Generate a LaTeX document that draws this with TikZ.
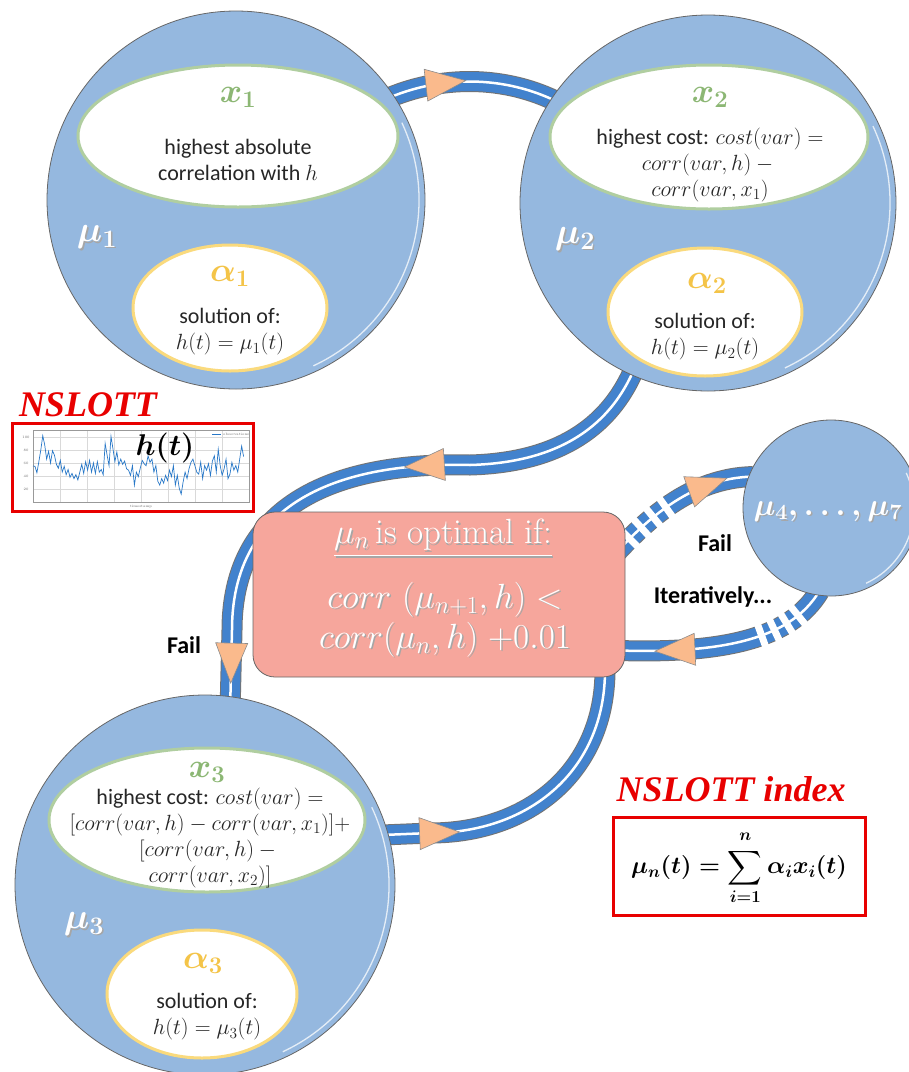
\RequirePackage{fix-cm}
\documentclass[tikz,border=0pt]{standalone}
\usepackage{amsmath}
\usepackage{amssymb}
\usepackage{fontspec}
\usepackage{tikz}
\usetikzlibrary{shapes.geometric, decorations.markings, calc}
\newfontfamily\calfont{Carlito}
\newfontfamily\timesfont{Liberation Serif}
\definecolor{circfill}{RGB}{149,184,223}
\definecolor{bandblue}{RGB}{66,130,205}
\definecolor{peach}{RGB}{250,186,140}
\definecolor{boxpink}{RGB}{246,166,156}
\definecolor{xgreen}{RGB}{140,183,116}
\definecolor{xline}{RGB}{176,206,160}
\definecolor{agold}{RGB}{244,196,72}
\definecolor{aline}{RGB}{250,218,125}
\definecolor{nred}{RGB}{232,0,0}
\definecolor{plotblue}{RGB}{40,120,200}
\pgfdeclarelayer{bg}
\pgfsetlayers{bg,main}
\newcommand\wsh[1]{\makebox[0pt][l]{\kern1.5pt\raisebox{-1.5pt}{\color{black!35}#1}}{\color{white}#1}}
\newcommand\arrowhead{\filldraw[fill=peach, draw=black!45, line width=0.6pt] (20pt,0pt) -- (-20pt,16pt) -- (-20pt,-16pt) -- cycle;}
\newcommand\gapmark{\fill[white] (-3.5pt,-12pt) rectangle (3.5pt,12pt);}

\begin{document}
\begin{tikzpicture}[x=1pt, y=-1pt,
	bubble/.style={circle, fill=circfill, draw=black!60, line width=0.8pt, inner sep=0pt},
	xell/.style={ellipse, fill=white, draw=xline, line width=3pt, inner sep=0pt},
	aell/.style={ellipse, fill=white, draw=aline, line width=3pt, inner sep=0pt},
	body/.style={font=\calfont\fontsize{22}{26}\selectfont, align=center, text=black!85},
	xlab/.style={text=xgreen, font=\fontsize{34}{34}\selectfont\mathversion{bold}},
	alab/.style={text=agold, font=\fontsize{34}{34}\selectfont\mathversion{bold}},
	mulab/.style={font=\fontsize{36}{36}\selectfont\mathversion{bold}},
	band/.style={draw=bandblue, line width=19pt, preaction={draw=black!55, line width=21pt}, postaction={draw=white, line width=2.5pt}},
	tag/.style={font=\calfont\bfseries\fontsize{24}{28}\selectfont},
	redtitle/.style={text=nred, inner sep=0pt, font=\timesfont\bfseries\itshape\fontsize{36}{36}\selectfont},
	tiny/.style={font=\fontsize{3.5}{4}\selectfont, text=black!60, inner sep=0pt}]
	\useasboundingbox (0,0) rectangle (909,1072);

	\node[bubble, minimum size=378pt] (mu1) at (236,200) {};
	\node[xell, minimum width=320pt, minimum height=142pt] (x1) at (238,136) {};
	\node[aell, minimum width=194pt, minimum height=126pt] (a1) at (230,308) {};
	\node[xlab] (x1l) at (238,97) {$x_1$};
	\node[body] (x1t) at (238,160) {highest absolute\\correlation with $h$};
	\node[alab] (a1l) at (230,276) {$\alpha_1$};
	\node[body] (a1t) at (230,332) {solution of:\\$h(t)=\mu_1(t)$};
	\node[mulab] (mu1l) at (97,238) {\wsh{$\mu_1$}};

	\node[bubble, minimum size=376pt] (mu2) at (708,203) {};
	\node[xell, minimum width=318pt, minimum height=144pt] (x2) at (709,137) {};
	\node[aell, minimum width=194pt, minimum height=128pt] (a2) at (705,312) {};
	\node[xlab] (x2l) at (710,97) {$x_2$};
	\node[body] (x2t) at (710,165) {highest cost: $cost(var)=$\\$corr(var,h)-{}$\\$corr(var,x_1)$};
	\node[alab] (a2l) at (707,283) {$\alpha_2$};
	\node[body] (a2t) at (705,337) {solution of:\\$h(t)=\mu_2(t)$};
	\node[mulab] (mu2l) at (575,240) {\wsh{$\mu_2$}};

	\node[bubble, minimum size=380pt] (mu3) at (205,885) {};
	\node[xell, minimum width=316pt, minimum height=144pt] (x3) at (207,820) {};
	\node[aell, minimum width=190pt, minimum height=128pt] (a3) at (202,994) {};
	\node[xlab] (x3l) at (207,772) {$x_3$};
	\node[body] (x3t) at (210,838) {highest cost: $cost(var)=$\\$[corr(var,h)-corr(var,x_1)]+$\\$[corr(var,h)-{}$\\$corr(var,x_2)]$};
	\node[alab] (a3l) at (203,963) {$\alpha_3$};
	\node[body] (a3t) at (207,1017) {solution of:\\$h(t)=\mu_3(t)$};
	\node[mulab] (mu3l) at (84,925) {\wsh{$\mu_3$}};

	\node[bubble, minimum size=176pt] (mu47) at (831,508) {};
	\node[mulab, anchor=west, font=\fontsize{31}{31}\selectfont\mathversion{bold}] (mu47l) at (750,512) {\wsh{$\mu_4,\ldots,\mu_7$}};

	\foreach \c/\r in {mu1/183, mu2/182, mu3/184, mu47/83}
		\draw[white, line width=1.3pt, opacity=0.75] ([shift={(-65:\r pt)}]\c.center) arc[start angle=-65, end angle=25, radius=\r pt];

	\node[rectangle, rounded corners=22pt, fill=boxpink, draw=black!60, line width=0.8pt, minimum width=372pt, minimum height=165pt] (cond) at (439,594.5) {};
	\node[font=\fontsize{35}{40}\selectfont] (condt) at (443,539) {\wsh{\underline{$\mu_n$\,is optimal if:}}};
	\node[font=\fontsize{35}{40}\selectfont, align=center] (condf) at (445,620) {\wsh{$corr\ (\mu_{n+1},h)<$}\\\wsh{$corr(\mu_n,h)\;{+}0.01$}};

	\node[tag] (fail1) at (184,645) {Fail};
	\node[tag] (fail2) at (715,543) {Fail};
	\node[tag] (iter) at (713,597) {Iteratively...};

	\begin{pgfonlayer}{bg}
		\draw[band, postaction={decorate, decoration={markings, mark=at position 0.35 with {\arrowhead}}}] ($(mu1.center)!0.95!(mu1.34)$) .. controls (440,75) and (505,75) .. ($(mu2.center)!0.95!(mu2.146)$);
		\draw[band, postaction={decorate, decoration={markings, mark=at position 0.41 with {\arrowhead}, mark=at position 0.93 with {\arrowhead}}}] ($(mu2.center)!0.95!(mu2.246)$) .. controls (605,440) and (540,463) .. (470,465) .. controls (360,462) and (232,490) .. (232,630) -- ($(mu3.center)!0.95!(mu3.82)$);
		\draw[band, postaction={decorate, decoration={markings, mark=at position 0.19 with {\arrowhead}}}] ($(mu3.center)!0.95!(mu3.16)$) -- (430,833) .. controls (530,833) and (605,770) .. (605,670);
		\draw[band, postaction={decorate, decoration={markings, mark=between positions 0.2 and 0.5 step 0.09 with {\gapmark}, mark=at position 0.74 with {\arrowhead}}}] ([xshift=-20pt, yshift=30pt]cond.east) .. controls (645,520) and (690,478) .. ($(mu47.center)!0.95!(mu47.158)$);
		\draw[band, postaction={decorate, decoration={markings, mark=between positions 0.14 and 0.33 step 0.06 with {\gapmark}, mark=at position 0.7 with {\arrowhead}}}] ($(mu47.center)!0.95!(mu47.262)$) .. controls (790,640) and (720,655) .. ([xshift=-20pt, yshift=-55.5pt]cond.east);
	\end{pgfonlayer}

	\node[redtitle] (nsl) at (88,405) {NSLOTT};
	\node[draw=nred, line width=3pt, fill=white, minimum width=241pt, minimum height=88pt] (chart) at (132.5,467) {};
	\foreach \gx in {33,60,...,249} \draw[black!15, line width=0.4pt] (\gx,430) -- (\gx,502);
	\foreach \gy in {437,450,...,502} \draw[black!15, line width=0.4pt] (33,\gy) -- (249,\gy);
	\draw[black!40, line width=0.4pt] (33,430) rectangle (249,502);
	\foreach \v/\gy in {20/489, 40/476, 60/463, 80/450, 100/437} \node[tiny] (tk\v) at (26,\gy) {\v};
	\draw[plotblue, line width=0.7pt] (33,466) \foreach \v [count=\i] in {55,45,62,80,102,88,66,78,60,79,72,58,52,64,46,55,42,50,38,44,36,42,34,46,58,44,62,49,64,46,60,44,62,46,50,42,90,72,56,101,82,62,77,57,66,58,63,51,49,41,56,26,46,39,52,64,59,56,71,61,66,46,56,32,26,36,29,41,33,49,39,56,26,41,21,12,31,46,36,51,61,66,56,46,43,61,36,56,49,59,41,63,71,46,81,56,41,51,66,36,43,61,49,56,46,66,86,70} { -- ({33+\i*1.95},{502-0.65*\v}) };
	\draw[plotblue, line width=0.7pt] (212,434) -- (221,434);
	\node[tiny, anchor=west] (leg) at (223,434) {observations};
	\node[tiny] (xax) at (141,507) {timestamp};
	\node[font=\fontsize{30}{30}\selectfont\mathversion{bold}] (ht) at (165,448) {$h(t)$};

	\node[redtitle] (nsli) at (731,789) {NSLOTT index};
	\node[draw=nred, line width=3pt, minimum width=252pt, minimum height=98pt] (idx) at (739,866) {};
	\node[font=\fontsize{24}{28}\selectfont\mathversion{bold}, inner sep=0pt] (idxf) at (739,868) {$\displaystyle \mu_n(t)=\sum_{i=1}^{\raisebox{3pt}{$\scriptstyle n$}}\alpha_i x_i(t)$};
\end{tikzpicture}
\end{document}
